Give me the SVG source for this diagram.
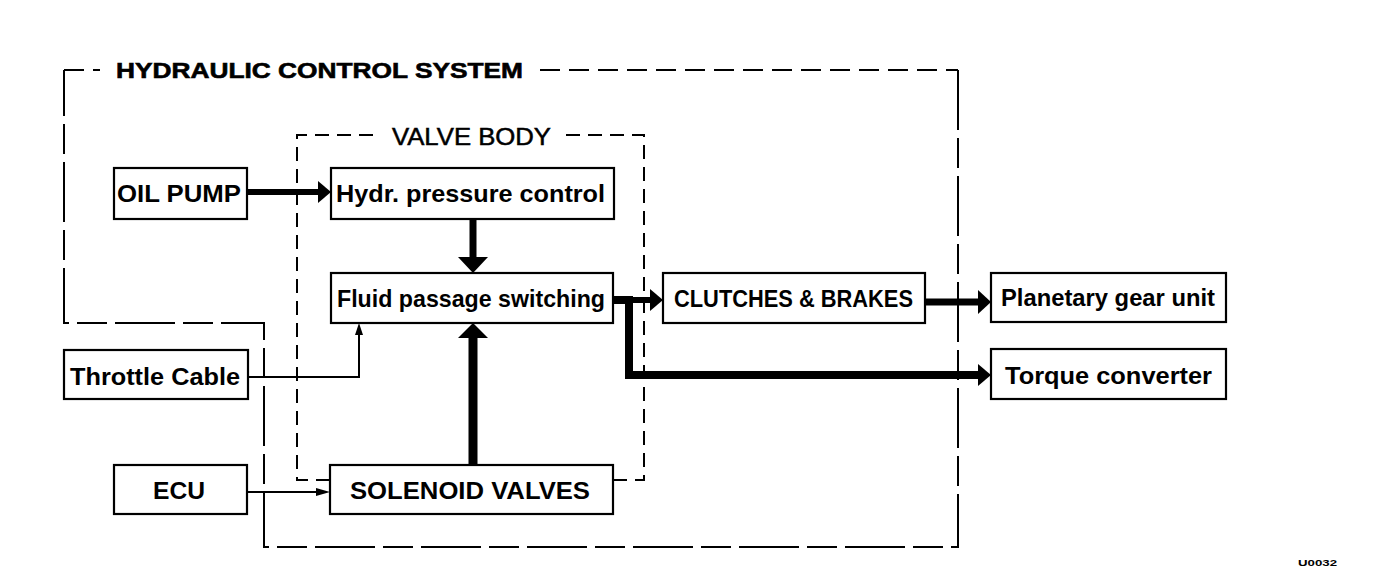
<svg xmlns="http://www.w3.org/2000/svg" width="1376" height="568" viewBox="0 0 1376 568">
<style>
  .box{fill:#fff;stroke:#000;stroke-width:2.2}
  .t{font-family:"Liberation Sans",Arial,sans-serif;font-weight:bold;font-size:24px;fill:#000}
  .title{font-family:"Liberation Sans",Arial,sans-serif;font-weight:bold;font-size:22px;fill:#000;stroke:#000;stroke-width:0.6}
  .vb{font-family:"Liberation Sans",Arial,sans-serif;font-weight:normal;font-size:23px;fill:#000;stroke:#000;stroke-width:0.5}
  .hcs{fill:none;stroke:#000;stroke-width:2;stroke-dasharray:60 8 30 8}
  .hcsTop{fill:none;stroke:#000;stroke-width:2;stroke-dasharray:20 9}
  .vbd{fill:none;stroke:#000;stroke-width:2;stroke-dasharray:14 8}
  .thin{fill:none;stroke:#000;stroke-width:2}
  .thick{fill:none;stroke:#000}
  .head{fill:#000}
</style>
<rect width="1376" height="568" fill="#fff"/>

<g id="hydraulic-control-system">
  <path class="hcsTop" d="M64,70 H100"/>
  <path class="hcsTop" d="M540,70 H958"/>
  <path class="hcs" d="M958,70 V547 H264 V323 H64 V70"/>
  <text class="title" x="116" y="78" textLength="407" lengthAdjust="spacingAndGlyphs">HYDRAULIC CONTROL SYSTEM</text>
</g>

<g id="valve-body">
  <path class="vbd" d="M330,480 H297 V135 H375"/>
  <path class="vbd" d="M566,135 H644 V480 H614"/>
  <text class="vb" x="392" y="145" textLength="159" lengthAdjust="spacingAndGlyphs">VALVE BODY</text>
</g>

<g id="connectors">
  <line class="thick" x1="247" y1="192" x2="319" y2="192" stroke-width="6"/>
  <polygon class="head" points="318,181 331,192 318,203"/>
  <line class="thick" x1="473" y1="219" x2="473" y2="259" stroke-width="7"/>
  <polygon class="head" points="458,257 488,257 473,273"/>
  <line class="thick" x1="473" y1="465" x2="473" y2="336" stroke-width="9"/>
  <polygon class="head" points="458,338 488,338 473,323"/>
  <path class="thin" d="M248,377 H359 V334"/>
  <polygon class="head" points="355,335 363,335 359,323"/>
  <line class="thin" x1="247" y1="492" x2="318" y2="492"/>
  <polygon class="head" points="316,488 330,492 316,496"/>
  <line class="thick" x1="613" y1="300" x2="651" y2="300" stroke-width="6"/>
  <polygon class="head" points="650,289 663,300 650,311"/>
  <path class="thick" d="M613,300 H629 V375 H979" stroke-width="8" stroke-linejoin="miter"/>
  <polygon class="head" points="978,364 991,375 978,386"/>
  <line class="thick" x1="925" y1="302" x2="979" y2="302" stroke-width="7"/>
  <polygon class="head" points="978,290 991,302 978,314"/>
</g>

<g id="oil-pump">
  <rect class="box" x="114" y="168" width="133" height="51"/>
  <text class="t" x="117" y="202" textLength="124" lengthAdjust="spacingAndGlyphs">OIL PUMP</text>
</g>
<g id="hydr-pressure-control">
  <rect class="box" x="331" y="168" width="283" height="51"/>
  <text class="t" x="336" y="202" textLength="269" lengthAdjust="spacingAndGlyphs">Hydr. pressure control</text>
</g>
<g id="fluid-passage-switching">
  <rect class="box" x="331" y="273" width="282" height="50"/>
  <text class="t" x="337" y="307" textLength="268" lengthAdjust="spacingAndGlyphs">Fluid passage switching</text>
</g>
<g id="clutches-brakes">
  <rect class="box" x="663" y="273" width="262" height="50"/>
  <text class="t" x="674" y="307" textLength="239" lengthAdjust="spacingAndGlyphs">CLUTCHES &amp; BRAKES</text>
</g>
<g id="planetary-gear-unit">
  <rect class="box" x="991" y="273" width="235" height="49"/>
  <text class="t" x="1001" y="306" textLength="214" lengthAdjust="spacingAndGlyphs">Planetary gear unit</text>
</g>
<g id="torque-converter">
  <rect class="box" x="991" y="349" width="235" height="50"/>
  <text class="t" x="1005" y="384" textLength="207" lengthAdjust="spacingAndGlyphs">Torque converter</text>
</g>
<g id="throttle-cable">
  <rect class="box" x="64" y="350" width="184" height="49"/>
  <text class="t" x="70" y="385" textLength="170" lengthAdjust="spacingAndGlyphs">Throttle Cable</text>
</g>
<g id="ecu">
  <rect class="box" x="114" y="465" width="133" height="49"/>
  <text class="t" x="153" y="499" textLength="52" lengthAdjust="spacingAndGlyphs">ECU</text>
</g>
<g id="solenoid-valves">
  <rect class="box" x="330" y="465" width="283" height="49"/>
  <text class="t" x="350" y="499" textLength="240" lengthAdjust="spacingAndGlyphs">SOLENOID VALVES</text>
</g>

<text x="1298" y="566" font-family="Liberation Sans, Arial, sans-serif" font-size="9" font-weight="bold" textLength="39" lengthAdjust="spacingAndGlyphs">U0032</text>
</svg>
